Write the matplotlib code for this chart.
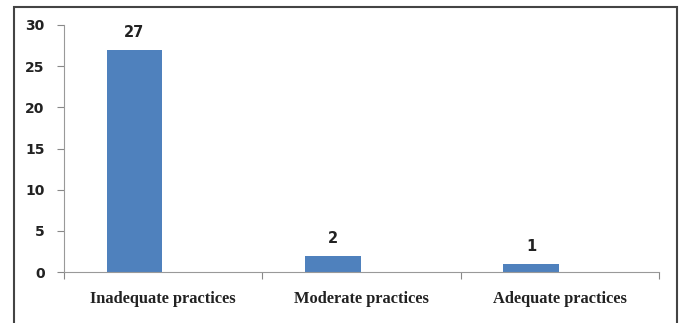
import matplotlib.pyplot as plt
from matplotlib.patches import Rectangle

categories = ['Inadequate practices', 'Moderate practices', 'Adequate practices']
counts = [27, 2, 1]
yticks = [0, 5, 10, 15, 20, 25, 30]

W, H = 679, 323
fig = plt.figure(figsize=(W / 100, H / 100), dpi=100)
# axes box in pixels: x 64..659, y 25..272 (top-down)
ax = fig.add_axes([64 / W, 1 - 272 / H, (659 - 64) / W, (272 - 25) / H])

x = list(range(len(categories)))
# bars sit left of the category centre (clustered layout with one series)
bx = [i - 0.145 for i in x]
ax.bar(bx, counts, width=0.28, color='#4F81BD', zorder=2)
for xi, v in zip(bx, counts):
    ax.text(xi, v + 1.2, str(v), ha='center', va='bottom', fontsize=10.5,
            fontweight='bold', family='DejaVu Sans', color='#222222')

ax.set_xlim(-0.5, 2.5)
ax.set_ylim(0, 30)
ax.set_yticks(yticks)
ax.set_yticklabels([str(t) for t in yticks], fontsize=10, fontweight='bold',
                   family='DejaVu Sans', color='#222222')
ax.set_xticks([-0.5, 0.5, 1.5, 2.5])
ax.set_xticklabels([])
ax.set_xticks(x, minor=True)
ax.set_xticklabels(categories, minor=True, fontsize=11.8, fontweight='bold',
                   family='Liberation Serif', color='#222222')
ax.tick_params(axis='x', which='minor', length=0, pad=14)
ax.tick_params(axis='x', which='major', length=5, direction='out', color='#888888')
ax.tick_params(axis='y', length=5, direction='out', color='#888888', pad=9)

for s in ['top', 'right']:
    ax.spines[s].set_visible(False)
ax.spines['left'].set_color('#999999')
ax.spines['bottom'].set_color('#999999')

# outer chart border
fig.patches.append(Rectangle((14 / W, -0.05), (677 - 14) / W, 1 - 7 / H + 0.05,
                             transform=fig.transFigure, fill=False,
                             edgecolor='#444444', linewidth=1.5))

fig.savefig('out.png', dpi=100)
